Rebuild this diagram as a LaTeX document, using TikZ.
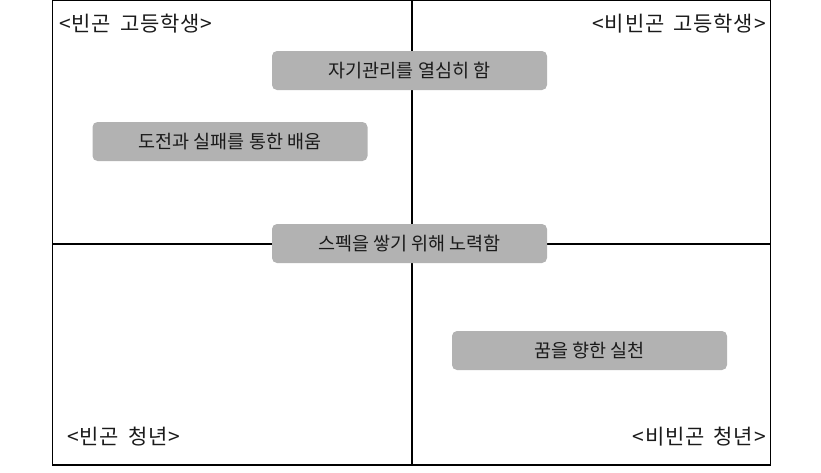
\documentclass[tikz,border=0pt]{standalone}
\usepackage{fontspec}
\setmainfont{Noto Sans CJK KR}
\newfontfamily\labelfont[LetterSpace=4.0,WordSpace=1.6]{Noto Sans CJK KR}
\usepackage{xcolor}
\usetikzlibrary{positioning}
\definecolor{boxgray}{RGB}{178,178,178}
\definecolor{inkgray}{RGB}{26,26,26}

\begin{document}
\begin{tikzpicture}[
x=1pt, y=-1pt,
every node/.style={text=inkgray},
item/.style={
fill=boxgray,
rounded corners=5pt,
minimum width=275pt,
minimum height=39pt,
inner sep=0pt,
font=\fontsize{18.5}{20}\selectfont
},
corner/.style={
inner sep=0pt,
font=\labelfont\fontsize{21}{23}\selectfont
}
]
\useasboundingbox (0,0) rectangle (821,472);

% frame and axes
\coordinate (nw) at (52.5,0.8);
\coordinate (se) at (770.5,465);
\coordinate (top) at (412,0.8);
\coordinate (bottom) at (412,465);
\coordinate (left) at (52.5,244);
\coordinate (right) at (770.5,244);

\draw[line width=1.2pt] (nw) rectangle (se);
\draw[line width=1.2pt] (top) -- (bottom);
\draw[line width=1.2pt] (left) -- (right);

\node (selfcare) [item] at (409.5,70.5) {자기관리를 열심히 함};
\node (trial) [item] at (230,141.5) {도전과 실패를 통한 배움};
\node (spec) [item] at (409.5,243.5) {스펙을 쌓기 위해 노력함};
\node (dream) [item] at (589.5,350.5) {꿈을 향한 실천};

\node (poorhs) [corner, anchor=base west] at (59,31.5) {<빈곤 고등학생>};
\node (richhs) [corner, anchor=base east] at (766,31.5) {<비빈곤 고등학생>};
\node (pooryt) [corner, anchor=base west] at (67,444.5) {<빈곤 청년>};
\node (richyt) [corner, anchor=base east] at (766,444.5) {<비빈곤 청년>};
\end{tikzpicture}
\end{document}
